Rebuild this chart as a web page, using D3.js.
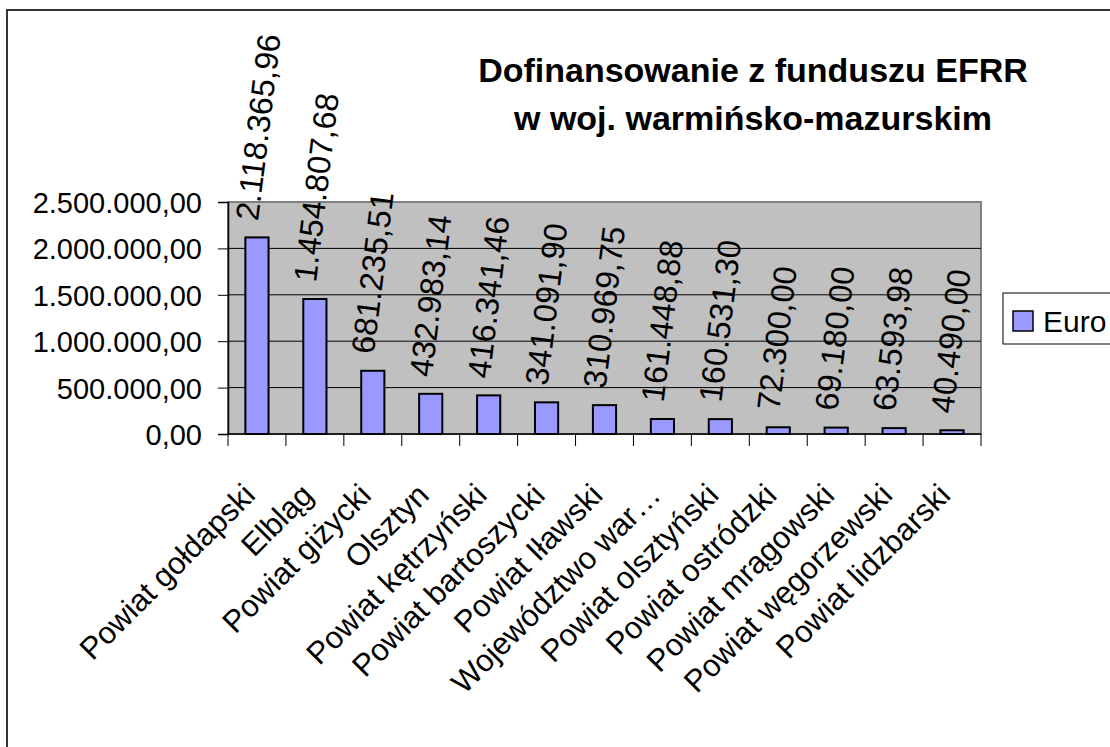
<!DOCTYPE html>
<html>
<head>
<meta charset="utf-8">
<script src="https://cdn.jsdelivr.net/npm/d3@7"></script>
<style>
  body { margin: 0; background: #fff; }
  svg text { font-family: "Liberation Sans", Arial, sans-serif; }
</style>
</head>
<body>
<div id="chart"></div>
<script>
const categories = [
    "Powiat gołdapski", "Elbląg", "Powiat giżycki", "Olsztyn", "Powiat kętrzyński",
    "Powiat bartoszycki", "Powiat Iławski", "Województwo war…", "Powiat olsztyński",
    "Powiat ostródzki", "Powiat mrągowski", "Powiat węgorzewski", "Powiat lidzbarski"
];
const euroValues = [
    2118365.96, 1454807.68, 681235.51, 432983.14, 416341.46,
    341091.90, 310969.75, 161448.88, 160531.30,
    72300.00, 69180.00, 63593.98, 40490.00
];
const yTicks = [0, 500000, 1000000, 1500000, 2000000, 2500000];
const seriesName = "Euro";
const titleLines = ["Dofinansowanie z funduszu EFRR", "w woj. warmińsko-mazurskim"];

const plLocale = d3.formatLocale({ decimal: ",", thousands: ".", grouping: [3], currency: ["", " zł"] });
const fmt = plLocale.format(",.2f");

const W = 1110, H = 747;
const plot = { left: 228, right: 981, top: 202, bottom: 434 };

const svg = d3.select("#chart").append("svg")
    .attr("width", W)
    .attr("height", H);

// outer chart border
svg.append("rect")
    .attr("x", 7).attr("y", 10)
    .attr("width", 1200).attr("height", 800)
    .attr("fill", "#fff")
    .attr("stroke", "#333")
    .attr("stroke-width", 2);

const x = d3.scaleBand()
    .domain(categories)
    .range([plot.left, plot.right])
    .paddingInner(0)
    .paddingOuter(0);

const y = d3.scaleLinear()
    .domain([0, 2500000])
    .range([plot.bottom, plot.top]);

// plot background
svg.append("rect")
    .attr("x", plot.left).attr("y", plot.top)
    .attr("width", plot.right - plot.left)
    .attr("height", plot.bottom - plot.top)
    .attr("fill", "#c0c0c0")
    .attr("stroke", "#808080")
    .attr("stroke-width", 2);

// gridlines
svg.append("g")
    .selectAll("line")
    .data(yTicks.filter(d => d > 0 && d < 2500000))
    .enter()
    .append("line")
    .attr("x1", plot.left).attr("x2", plot.right)
    .attr("y1", d => y(d)).attr("y2", d => y(d))
    .attr("stroke", "#000")
    .attr("stroke-width", 1);

// y axis
const yAxis = svg.append("g")
    .attr("transform", `translate(${plot.left},0)`)
    .call(d3.axisLeft(y).tickValues(yTicks).tickFormat(fmt).tickSize(10).tickPadding(16));
yAxis.select(".domain").attr("stroke", "#000").attr("stroke-width", 1.5);
yAxis.selectAll(".tick line").attr("stroke", "#000");
yAxis.selectAll("text")
    .attr("font-size", "29px")
    .attr("fill", "#000")
    .attr("font-family", "Liberation Sans, Arial, sans-serif")
    .attr("dy", "0.36em");

// x axis (ticks at band edges)
const xAxisG = svg.append("g");
xAxisG.append("line")
    .attr("x1", plot.left).attr("x2", plot.right)
    .attr("y1", plot.bottom).attr("y2", plot.bottom)
    .attr("stroke", "#000").attr("stroke-width", 1.5);
const edges = categories.map(c => x(c)).concat([x(categories[categories.length - 1]) + x.bandwidth()]);
xAxisG.selectAll(".xtick")
    .data(edges)
    .enter()
    .append("line")
    .attr("class", "xtick")
    .attr("x1", d => d).attr("x2", d => d)
    .attr("y1", plot.bottom).attr("y2", plot.bottom + 12)
    .attr("stroke", "#000");

// category labels
xAxisG.selectAll(".cat-label")
    .data(categories)
    .enter()
    .append("text")
    .attr("class", "cat-label")
    .attr("transform", d => `translate(${x(d) + x.bandwidth() / 2},${plot.bottom + 63}) rotate(-45)`)
    .attr("text-anchor", "end")
    .attr("font-size", "31px")
    .attr("fill", "#000")
    .text(d => d);

// bars
const barW = x.bandwidth() * 0.4;
svg.append("g")
    .selectAll(".bar")
    .data(categories)
    .enter()
    .append("rect")
    .attr("class", "bar")
    .attr("x", (d) => x(d) + (x.bandwidth() - barW) / 2)
    .attr("y", (d, i) => y(euroValues[i]))
    .attr("width", barW)
    .attr("height", (d, i) => plot.bottom - y(euroValues[i]))
    .attr("fill", "#9999ff")
    .attr("stroke", "#000")
    .attr("stroke-width", 2);

// value labels
svg.append("g")
    .selectAll(".value-label")
    .data(categories)
    .enter()
    .append("text")
    .attr("class", "value-label")
    .attr("transform", (d, i) => `translate(${x(d) + x.bandwidth() / 2 + 1},${y(euroValues[i]) - 16}) rotate(-83)`)
    .attr("text-anchor", "start")
    .attr("font-size", "32.5px")
    .attr("fill", "#000")
    .text((d, i) => fmt(euroValues[i]));

// title
svg.append("text")
    .attr("x", 753)
    .attr("y", 82)
    .attr("text-anchor", "middle")
    .attr("font-size", "34px")
    .attr("font-weight", "bold")
    .selectAll("tspan")
    .data(titleLines)
    .enter()
    .append("tspan")
    .attr("x", 753)
    .attr("dy", (d, i) => i === 0 ? 0 : 48)
    .text(d => d);

// legend
const legend = svg.append("g");
legend.append("rect")
    .attr("x", 1003).attr("y", 293)
    .attr("width", 150).attr("height", 51)
    .attr("fill", "#fff")
    .attr("stroke", "#000")
    .attr("stroke-width", 1);
legend.append("rect")
    .attr("x", 1013).attr("y", 311)
    .attr("width", 20).attr("height", 20)
    .attr("fill", "#9999ff")
    .attr("stroke", "#000")
    .attr("stroke-width", 1.5);
legend.append("text")
    .attr("x", 1043).attr("y", 332)
    .attr("font-size", "30px")
    .attr("fill", "#000")
    .text(seriesName);
</script>
</body>
</html>
